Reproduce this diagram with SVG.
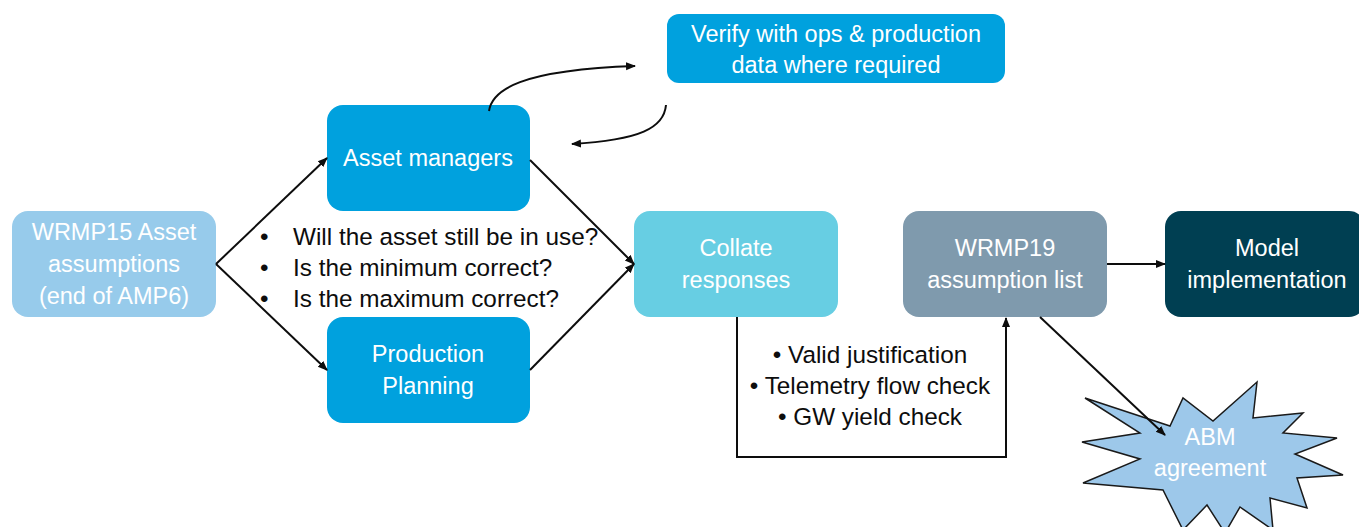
<svg xmlns="http://www.w3.org/2000/svg" width="1359" height="527" viewBox="0 0 1359 527">
<defs>
<marker id="ah" viewBox="0 0 10 10" refX="9" refY="5" markerWidth="10" markerHeight="10" markerUnits="userSpaceOnUse" orient="auto">
<path d="M0,1 L10,5 L0,9 Z" fill="#0d0d0d"/>
</marker>
<style>
.lbl{font-family:"Liberation Sans",Arial,sans-serif;font-size:23.5px;fill:#ffffff;text-anchor:middle}
.blk{font-family:"Liberation Sans",Arial,sans-serif;font-size:24.3px;fill:#0d0d0d}
.ctr{text-anchor:middle}
.con{fill:none;stroke:#0d0d0d;stroke-width:2}
</style>
</defs>
<rect width="1359" height="527" fill="#ffffff"/>

<g id="wrmp15">
<rect x="12" y="211" width="204" height="106" rx="16" fill="#97cbeb"/>
<text class="lbl" x="114" y="240">WRMP15 Asset</text>
<text class="lbl" x="114" y="272">assumptions</text>
<text class="lbl" x="114" y="304">(end of AMP6)</text>
</g>

<g id="asset-managers">
<rect x="327" y="105" width="203" height="106" rx="16" fill="#00a1de"/>
<text class="lbl" x="428" y="166">Asset managers</text>
</g>

<g id="production-planning">
<rect x="327" y="317" width="203" height="106" rx="16" fill="#00a1de"/>
<text class="lbl" x="428" y="362">Production</text>
<text class="lbl" x="428" y="394">Planning</text>
</g>

<g id="verify">
<rect x="667" y="14" width="338" height="69" rx="12" fill="#00a1de"/>
<text class="lbl" x="836" y="42">Verify with ops &amp; production</text>
<text class="lbl" x="836" y="73">data where required</text>
</g>

<g id="questions">
<text class="blk" x="260" y="245">•</text>
<text class="blk" x="293" y="245">Will the asset still be in use?</text>
<text class="blk" x="260" y="276">•</text>
<text class="blk" x="293" y="276">Is the minimum correct?</text>
<text class="blk" x="260" y="307">•</text>
<text class="blk" x="293" y="307">Is the maximum correct?</text>
</g>

<g id="collate">
<rect x="634" y="211" width="204" height="106" rx="16" fill="#67cee3"/>
<text class="lbl" x="736" y="256">Collate</text>
<text class="lbl" x="736" y="288">responses</text>
</g>

<g id="checks">
<text class="blk ctr" x="870" y="363">• Valid justification</text>
<text class="blk ctr" x="870" y="394">• Telemetry flow check</text>
<text class="blk ctr" x="870" y="425">• GW yield check</text>
</g>

<g id="wrmp19">
<rect x="903" y="211" width="204" height="106" rx="16" fill="#7f9aad"/>
<text class="lbl" x="1005" y="256">WRMP19</text>
<text class="lbl" x="1005" y="288">assumption list</text>
</g>

<g id="model">
<rect x="1165" y="211" width="200" height="106" rx="16" fill="#003f52"/>
<text class="lbl" x="1267" y="256">Model</text>
<text class="lbl" x="1267" y="288">implementation</text>
</g>

<g id="abm">
<polygon points="1085,398 1170,426 1183,398 1213,421 1257,382 1253,418 1303,413 1283,433 1337,438 1295,454 1343,475 1297,478 1307,508 1270,498 1273,530 1240,507 1225,533 1207,505 1183,530 1163,490 1083,483 1140,459 1082,442 1140,433" fill="#9dc8ea" stroke="#1a1a1a" stroke-width="1.5" stroke-linejoin="miter"/>
<text class="lbl" x="1210" y="445">ABM</text>
<text class="lbl" x="1210" y="476">agreement</text>
</g>

<g id="connectors">
<line class="con" x1="216" y1="264" x2="327" y2="158" marker-end="url(#ah)"/>
<line class="con" x1="216" y1="264" x2="327" y2="370" marker-end="url(#ah)"/>
<line class="con" x1="530" y1="160" x2="634" y2="264" marker-end="url(#ah)"/>
<line class="con" x1="530" y1="370" x2="634" y2="264" marker-end="url(#ah)"/>
<path class="con" d="M489,111 C492,90 520,70 635,66" marker-end="url(#ah)"/>
<path class="con" d="M666,105 C664,128 640,140 572,144" marker-end="url(#ah)"/>
<path class="con" d="M737,317 L737,457 L1006,457 L1006,318" marker-end="url(#ah)"/>
<line class="con" x1="1107" y1="264" x2="1165" y2="264" marker-end="url(#ah)"/>
<line class="con" x1="1040" y1="317" x2="1165" y2="435" marker-end="url(#ah)"/>
</g>
</svg>
